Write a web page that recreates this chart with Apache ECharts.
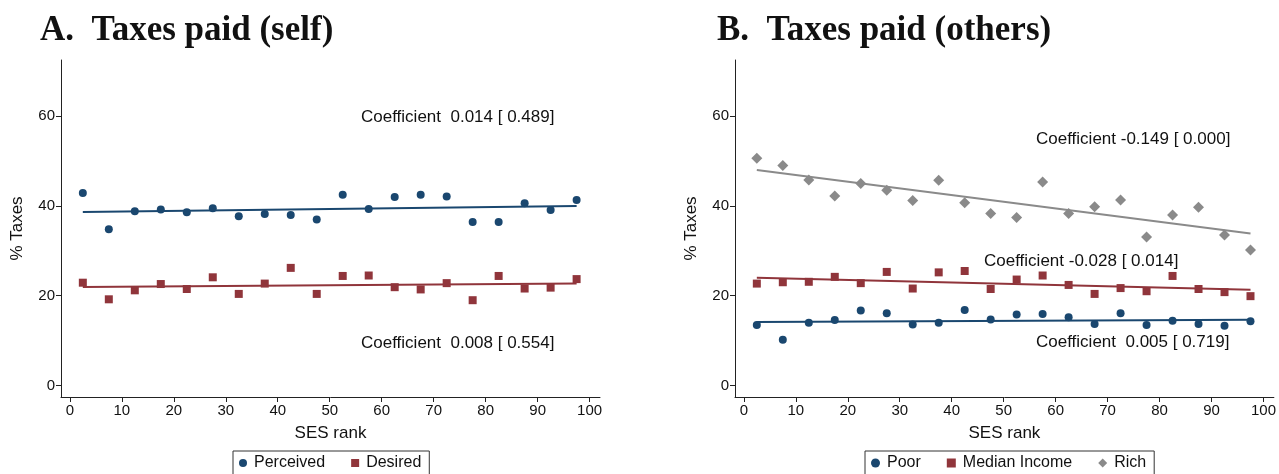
<!DOCTYPE html>
<html>
<head>
<meta charset="utf-8">
<script src="https://cdn.jsdelivr.net/npm/echarts@6/dist/echarts.min.js"></script>
<style>
html,body{margin:0;padding:0;background:#fff;}
#c{width:1279px;height:474px;}
</style>
</head>
<body>
<div id="c"></div>
<script>
// ---- data ----
var sesRank = [2.5,7.5,12.5,17.5,22.5,27.5,32.5,37.5,42.5,47.5,52.5,57.5,62.5,67.5,72.5,77.5,82.5,87.5,92.5,97.5];
var xTicks = [0,10,20,30,40,50,60,70,80,90,100];
var yTicks = [0,20,40,60];

// Panel A: Taxes paid (self)
var perceived = [42.9,34.8,38.8,39.2,38.6,39.5,37.7,38.2,38.0,37.0,42.5,39.3,42.0,42.5,42.1,36.4,36.4,40.6,39.1,41.3];
var desired   = [22.9,19.2,21.2,22.6,21.5,24.1,20.4,22.7,26.2,20.4,24.4,24.5,21.9,21.4,22.8,19.0,24.4,21.6,21.8,23.7];
var fitX = [2.5, 97.5];
var perceivedFit = [38.65, 39.98];
var desiredFit   = [21.95, 22.71];

// Panel B: Taxes paid (others)
var poor   = [13.5,10.2,14.0,14.6,16.7,16.1,13.6,14.0,16.8,14.7,15.8,15.9,15.2,13.7,16.1,13.5,14.4,13.7,13.3,14.3];
var median = [22.7,23.0,23.1,24.2,22.8,25.3,21.6,25.2,25.5,21.5,23.6,24.5,22.4,20.4,21.7,21.0,24.4,21.5,20.8,19.9];
var rich   = [50.6,49.0,45.8,42.2,45.0,43.5,41.2,45.7,40.7,38.3,37.4,45.3,38.3,39.8,41.3,33.1,38.0,39.7,33.5,30.2];
var poorFit   = [14.15, 14.63];
var medianFit = [24.0, 21.35];
var richFit   = [48.0, 33.85];

var coefA = ['Coefficient  0.014 [ 0.489]', 'Coefficient  0.008 [ 0.554]'];
var coefB = ['Coefficient -0.149 [ 0.000]', 'Coefficient -0.028 [ 0.014]', 'Coefficient  0.005 [ 0.719]'];

// ---- styling ----
var NAVY = '#1a476f', MAROON = '#90353b', GRAY = '#8a8a8a';
var SANS = '"Liberation Sans", Arial, sans-serif';
var SERIF = '"Liberation Serif", "Times New Roman", serif';

function pairs(xs, ys){ return xs.map(function(x,i){ return [x, ys[i]]; }); }

function xAxis(gi){
  return {
    type:'value', gridIndex:gi, min:-1.7, max:102,
    name:'SES rank', nameLocation:'middle', nameGap:28,
    nameTextStyle:{fontFamily:SANS, fontSize:17, color:'#111'},
    axisLine:{show:true, onZero:false, lineStyle:{color:'#222', width:1}},
    axisTick:{show:true, customValues:xTicks, length:5, lineStyle:{color:'#222'}},
    axisLabel:{customValues:xTicks, fontFamily:SANS, fontSize:15, color:'#111', margin:6},
    splitLine:{show:false}
  };
}
function yAxis(gi){
  return {
    type:'value', gridIndex:gi, min:-2.56, max:72.5,
    name:'% Taxes', nameLocation:'middle', nameGap:35, nameRotate:90,
    nameTextStyle:{fontFamily:SANS, fontSize:17, color:'#111'},
    axisLine:{show:true, onZero:false, lineStyle:{color:'#222', width:1}},
    axisTick:{show:true, customValues:yTicks, length:5, lineStyle:{color:'#222'}},
    axisLabel:{customValues:yTicks, fontFamily:SANS, fontSize:15, color:'#111', margin:6},
    splitLine:{show:false}
  };
}
function scat(name, gi, ys, sym, size, color){
  return {name:name, type:'scatter', xAxisIndex:gi, yAxisIndex:gi, data:pairs(sesRank, ys),
    symbol:sym, symbolSize:size, itemStyle:{color:color, opacity:1}, z:3, silent:true};
}
function fit(name, gi, ys, color){
  return {name:name, type:'line', xAxisIndex:gi, yAxisIndex:gi, data:pairs(fitX, ys),
    symbol:'none', lineStyle:{color:color, width:2}, z:2, silent:true};
}
function txt(x, y, s, size, font, weight){
  return {type:'text', x:x, y:y, style:{text:s, fontFamily:font||SANS, fontSize:size||17, fontWeight:weight||'normal', fill:'#111', textVerticalAlign:'middle'}};
}

var legendText = {fontFamily:SANS, fontSize:16, color:'#111', padding:[0,0,0,2]};

var chart = echarts.init(document.getElementById('c'), null, {renderer:'canvas'});
chart.setOption({
  animation:false,
  backgroundColor:'#fff',
  grid:[
    {left:61, top:60, width:539, height:337},
    {left:735, top:60, width:542, height:337}
  ],
  xAxis:[xAxis(0), xAxis(1)],
  yAxis:[yAxis(0), yAxis(1)],
  legend:[
    {data:[{name:'Perceived', icon:'circle'},{name:'Desired', icon:'rect'}],
     left:233, top:451, itemWidth:8, itemHeight:8, itemGap:26,
     borderColor:'#333', borderWidth:1, padding:[4,8,20,6], textStyle:legendText},
    {data:[{name:'Poor', icon:'circle'},{name:'Median Income', icon:'rect'},{name:'Rich', icon:'diamond'}],
     left:865, top:451, itemWidth:9, itemHeight:9, itemGap:26,
     borderColor:'#333', borderWidth:1, padding:[4,8,20,6], textStyle:legendText}
  ],
  graphic:[
    txt(40, 31, 'A.  Taxes paid (self)', 35, SERIF, 'bold'),
    txt(717, 31, 'B.  Taxes paid (others)', 35, SERIF, 'bold'),
    txt(361, 117, coefA[0]),
    txt(361, 343, coefA[1]),
    txt(1036, 139, coefB[0]),
    txt(984, 261, coefB[1]),
    txt(1036, 342, coefB[2])
  ],
  series:[
    fit('fitPerceived', 0, perceivedFit, NAVY),
    fit('fitDesired', 0, desiredFit, MAROON),
    scat('Perceived', 0, perceived, 'circle', 8, NAVY),
    scat('Desired', 0, desired, 'rect', 8, MAROON),
    fit('fitRich', 1, richFit, GRAY),
    fit('fitMedian', 1, medianFit, MAROON),
    fit('fitPoor', 1, poorFit, NAVY),
    scat('Rich', 1, rich, 'diamond', 11, GRAY),
    scat('Median Income', 1, median, 'rect', 8, MAROON),
    scat('Poor', 1, poor, 'circle', 8, NAVY)
  ]
});
</script>
</body>
</html>
